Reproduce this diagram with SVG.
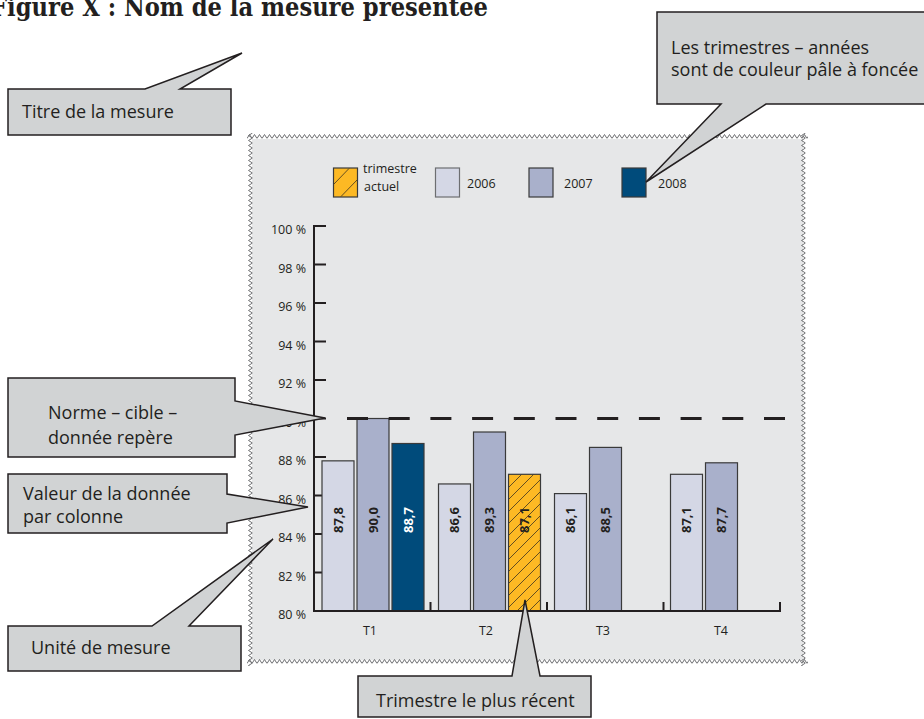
<svg xmlns="http://www.w3.org/2000/svg" width="924" height="719" viewBox="0 0 924 719">
<defs>
<style>
.t{font-family:"Open Sans","Noto Sans","Liberation Sans",sans-serif;fill:#231f20}
.co{fill:#d1d3d4;stroke:#231f20;stroke-width:1.5;stroke-linejoin:miter}
.ct{font-size:18px}
.sm{font-size:12.5px}
.val{font-size:13px;font-weight:700;text-anchor:middle}
.bar{stroke:#3a3a3a;stroke-width:1.2}
.ax{stroke:#231f20;stroke-width:2;fill:none}
</style>
<pattern id="zzH" x="247" y="133" width="5" height="7" patternUnits="userSpaceOnUse">
<path d="M0,5.5 L2.5,1.5 L5,5.5" fill="none" stroke="#6d6e71" stroke-width="1"/>
</pattern>
<pattern id="zzV" x="247" y="133" width="7" height="5" patternUnits="userSpaceOnUse">
<path d="M5.5,0 L1.5,2.5 L5.5,5" fill="none" stroke="#6d6e71" stroke-width="1"/>
</pattern>
<pattern id="hatch" x="0" y="0" width="12" height="12" patternUnits="userSpaceOnUse">
<rect width="12" height="12" fill="#fdb924"/>
<path d="M-3,15 L15,-3 M-3,3 L3,-3 M9,15 L15,9" stroke="#231f20" stroke-width="0.7"/>
</pattern>
</defs>
<rect width="924" height="719" fill="#ffffff"/>

<g id="title">
<text x="-9" y="16" font-family="'DejaVu Serif','Liberation Serif',serif" font-weight="bold" font-size="26" fill="#231f20" textLength="497" lengthAdjust="spacingAndGlyphs">Figure X : Nom de la mesure présentée</text>
</g>

<g id="chart">
<rect x="252" y="139" width="551" height="521" fill="#e6e7e8"/>
<rect x="247" y="133" width="561" height="7" fill="url(#zzH)"/>
<rect x="247" y="659" width="561" height="7" fill="url(#zzH)"/>
<rect x="246" y="133" width="7" height="533" fill="url(#zzV)"/>
<rect x="801" y="133" width="7" height="533" fill="url(#zzV)"/>

<g id="legend">
<rect x="333.5" y="168" width="24" height="29" fill="#fdb924" stroke="#3a3a3a" stroke-width="1.2"/>
<path d="M334,184 L349,168.5 M341,196.5 L357,180" stroke="#231f20" stroke-width="0.7"/>
<text class="t sm" x="363" y="173">trimestre</text>
<text class="t sm" x="364" y="191">actuel</text>
<rect x="435.5" y="168" width="24" height="29" fill="#d4d7e5" stroke="#6d6e71" stroke-width="1.2"/>
<text class="t sm" x="467" y="188">2006</text>
<rect x="529" y="168" width="24" height="29" fill="#a9b0cb" stroke="#3a3a3a" stroke-width="1.2"/>
<text class="t sm" x="564" y="188">2007</text>
<rect x="622" y="168" width="24" height="29" fill="#004b7b" stroke="#3a3a3a" stroke-width="1.2"/>
<text class="t sm" x="658" y="188">2008</text>
</g>

<g id="yaxis">
<path class="ax" d="M314,226 H326 M314,264.5 H326 M314,303 H326 M314,341.5 H326 M314,380 H326 M314,418.5 H326 M314,457 H326 M314,495.5 H326 M314,534 H326 M314,572.5 H326"/>
<g class="t sm" text-anchor="end">
<text x="306" y="234">100 %</text>
<text x="306" y="272.5">98 %</text>
<text x="306" y="311">96 %</text>
<text x="306" y="349.5">94 %</text>
<text x="306" y="388">92 %</text>
<text x="306" y="426.5">90 %</text>
<text x="306" y="465">88 %</text>
<text x="306" y="503.5">86 %</text>
<text x="306" y="542">84 %</text>
<text x="306" y="580.5">82 %</text>
<text x="306" y="619">80 %</text>
</g>
</g>

<g id="bars">
<rect class="bar" x="322" y="460.85" width="32" height="150.15" fill="#d4d7e5"/>
<rect class="bar" x="357" y="418.5" width="32" height="192.5" fill="#a9b0cb"/>
<rect class="bar" x="392" y="443.5" width="32" height="167.5" fill="#004b7b"/>
<rect class="bar" x="438.5" y="483.95" width="32" height="127.05" fill="#d4d7e5"/>
<rect class="bar" x="473.5" y="432" width="32" height="179" fill="#a9b0cb"/>
<rect class="bar" x="508.5" y="474.3" width="32" height="136.7" fill="url(#hatch)"/>
<rect class="bar" x="554.5" y="493.6" width="32" height="117.4" fill="#d4d7e5"/>
<rect class="bar" x="589.5" y="447.4" width="32" height="163.6" fill="#a9b0cb"/>
<rect class="bar" x="670.5" y="474.3" width="32" height="136.7" fill="#d4d7e5"/>
<rect class="bar" x="705.5" y="462.8" width="32" height="148.2" fill="#a9b0cb"/>
</g>

<g id="values" class="t val">
<text transform="translate(342.5,520) rotate(-90)">87,8</text>
<text transform="translate(377.5,520) rotate(-90)">90,0</text>
<text transform="translate(412.5,520) rotate(-90)" style="fill:#ffffff">88,7</text>
<text transform="translate(459,520) rotate(-90)">86,6</text>
<text transform="translate(494,520) rotate(-90)">89,3</text>
<text transform="translate(529,520) rotate(-90)">87,1</text>
<text transform="translate(575,520) rotate(-90)">86,1</text>
<text transform="translate(610,520) rotate(-90)">88,5</text>
<text transform="translate(691,520) rotate(-90)">87,1</text>
<text transform="translate(726,520) rotate(-90)">87,7</text>
</g>

<g id="axes">
<path class="ax" d="M314,225 V612 M313,611 H780 V602 M430.5,611 V602 M547,611 V602 M663.5,611 V602"/>
<line x1="347" y1="418.5" x2="785" y2="418.5" stroke="#231f20" stroke-width="3.2" stroke-dasharray="21 20.7"/>
<g class="t sm" text-anchor="middle">
<text x="370" y="635">T1</text>
<text x="486" y="635">T2</text>
<text x="603" y="635">T3</text>
<text x="721" y="635">T4</text>
</g>
</g>
</g>

<g id="callout-titre">
<path class="co" d="M8,89 L145,89 L242,53 L180,89 L231,89 L231,135 L8,135 Z"/>
<text class="t ct" x="22" y="118">Titre de la mesure</text>
</g>

<g id="callout-trimestres">
<path class="co" d="M657,12 L932,12 L932,104 L766,104 L646,182 L721,104 L657,104 Z"/>
<text class="t ct" x="671" y="54">Les trimestres – années</text>
<text class="t ct" x="671" y="76">sont de couleur pâle à foncée</text>
</g>

<g id="callout-norme">
<path class="co" d="M8,378 L235,378 L235,401 L325,418 L235,435 L235,457 L8,457 Z"/>
<text class="t ct" x="48" y="419">Norme – cible –</text>
<text class="t ct" x="48" y="444">donnée repère</text>
</g>

<g id="callout-valeur">
<path class="co" d="M8,474 L227,474 L227,494 L308,507 L227,523 L227,533 L8,533 Z"/>
<text class="t ct" x="23" y="500">Valeur de la donnée</text>
<text class="t ct" x="23" y="523">par colonne</text>
</g>

<g id="callout-unite">
<path class="co" d="M8,626 L152,626 L273,539 L189,626 L241,626 L241,671 L8,671 Z"/>
<text class="t ct" x="31" y="654">Unité de mesure</text>
</g>

<g id="callout-recent">
<path class="co" d="M358,676 L512,676 L525,600 L540,676 L591,676 L591,717 L358,717 Z"/>
<text class="t ct" x="376" y="707">Trimestre le plus récent</text>
</g>
</svg>
